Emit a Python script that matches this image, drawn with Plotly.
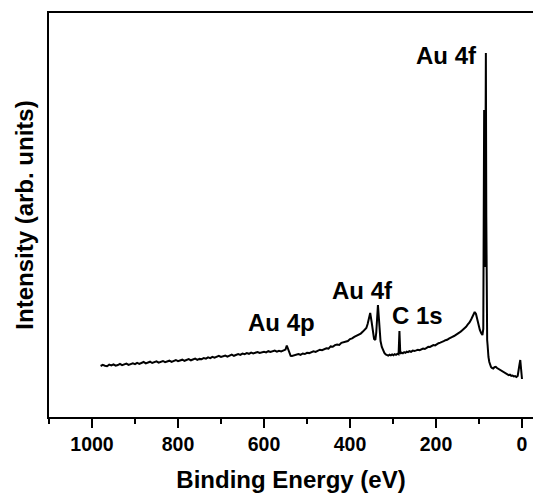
import plotly.graph_objects as go

# Binding energy (eV) and intensity (arb. units)
be = [980, 975, 970, 965, 960, 955, 950, 945, 940, 935, 930, 925, 920, 915, 910, 905,
      900, 895, 890, 885, 880, 875, 870, 865, 860, 855, 850, 845, 840, 835, 830, 825,
      820, 815, 810, 805, 800, 795, 790, 785, 780, 775, 770, 765, 760, 755, 750, 745,
      740, 735, 730, 725, 720, 715, 710, 705, 700, 695, 690, 685, 680, 675, 670, 665,
      660, 655, 650, 645, 640, 635, 630, 625, 620, 615, 610, 605, 600,
      595, 590, 585, 580, 575, 570, 565, 560, 555, 550, 547, 544, 541, 538, 535, 530,
      525, 520, 515, 510, 505, 500, 495, 490, 485, 480, 475, 470, 465, 460, 455, 450,
      445, 440, 435, 430, 425, 420, 415, 410, 405, 400, 395, 390, 385, 380, 375, 370,
      365, 362, 359, 356, 353, 350, 347, 344, 341, 339, 337, 335, 333, 331, 329, 326,
      323, 320, 317, 314, 311, 308, 305, 302, 299, 296, 293, 290, 287, 285, 284, 283,
      280, 277, 274, 271, 268, 265, 262, 258, 254, 250, 246, 242, 238, 234, 230, 226,
      222, 218, 214, 210, 206, 202, 198, 194, 190, 186, 182, 178, 174, 170, 166, 162,
      158, 154, 150, 146, 142, 138, 134, 130, 126, 122, 118, 114, 110, 107, 104, 101,
      98, 95, 92, 90, 89, 88, 87, 86, 85, 84, 83, 82, 81, 80, 79, 78,
      76, 74, 72, 70, 67, 64, 61, 58, 55, 52, 49, 46, 43, 40, 37, 34,
      31, 28, 25, 22, 19, 16, 13, 10, 8, 6, 4, 2, 1, 0]

intensity = [51.0, 52.1, 51.3, 50.8, 52.4, 51.6, 52.7, 51.4, 52.0, 53.2, 51.9, 52.3, 53.4, 52.1, 52.9, 53.6,
             52.8, 54.1, 53.2, 53.9, 55.0, 53.6, 54.2, 55.3, 54.0, 54.7, 55.6, 54.3, 55.2, 56.0, 54.8, 55.5,
             56.3, 55.1, 56.0, 57.0, 55.8, 56.4, 57.3, 56.2, 57.1, 57.9, 56.7, 57.6, 58.4, 57.2, 58.1, 57.8,
             59.0, 58.3, 59.6, 58.9, 60.2, 59.4, 60.0, 61.1, 60.0, 60.8, 61.5, 60.4, 61.6, 62.3, 61.2, 62.0,
             62.9, 62.1, 63.4, 62.8, 63.9, 63.2, 64.4, 63.6, 64.1, 65.0, 64.0, 64.8, 65.3,
             64.6, 65.8, 65.0, 65.6, 66.4, 65.3, 66.2, 65.6, 66.5, 67.4, 71.5, 68.0, 63.5, 61.2, 61.0, 61.6,
             61.8, 62.9, 62.2, 63.5, 63.0, 64.2, 63.9, 64.8, 65.6, 65.0, 66.4, 67.3, 66.8, 68.1, 68.7, 68.4,
             70.6, 70.2, 71.9, 72.4, 72.0, 74.1, 74.6, 75.8, 76.0, 77.9, 78.6, 80.1, 81.0, 82.6, 83.4, 85.4,
             88.0, 89.0, 93.0, 98.0, 104.0, 96.0, 85.0, 78.0, 77.0, 84.0, 98.0, 112.0, 100.0, 85.0, 76.0, 70.0,
             66.5, 64.0, 62.6, 62.2, 61.4, 62.3, 61.6, 62.6, 61.8, 62.9, 62.2, 63.1, 62.6, 86.0, 70.0, 63.2,
             64.4, 63.8, 64.9, 64.2, 65.3, 64.9, 65.8, 65.2, 66.4, 66.0, 66.6, 67.3, 66.8, 67.9, 68.4, 68.0,
             69.6, 70.2, 70.0, 71.4, 71.9, 71.6, 73.1, 73.8, 74.4, 74.9, 75.8, 76.8, 77.2, 78.4, 79.0, 80.2,
             81.0, 82.4, 83.2, 84.3, 85.6, 87.0, 88.4, 90.2, 92.6, 94.6, 97.8, 101.0, 105.0, 103.0, 97.0, 91.0,
             87.0, 84.0, 82.0, 88.0, 160.0, 307.0, 230.0, 150.0, 250.0, 364.0, 200.0, 90.0, 77.0, 72.0, 64.0, 60.0,
             55.0, 52.0, 50.0, 49.0, 48.5, 49.8, 50.2, 49.0, 48.2, 47.3, 46.6, 45.8, 45.1, 44.3, 43.7, 43.0,
             41.8, 42.4, 41.2, 41.5, 40.6, 40.9, 40.0, 41.0, 45.0, 52.0, 57.0, 50.0, 42.0, 38.0]

# Peak labels: text, binding energy, intensity
label_text = ["Au 4f", "Au 4f", "C 1s", "Au 4p"]
label_be = [175, 371, 244, 559]
label_int = [362, 127, 102, 95]

major_ticks = [1000, 800, 600, 400, 200, 0]
minor_ticks = [1100, 900, 700, 500, 300, 100]

FONT = "Liberation Sans, Arial, sans-serif"

fig = go.Figure()
fig.add_trace(go.Scatter(x=be, y=intensity, mode="lines",
                         line=dict(color="black", width=2.0), showlegend=False))

for t, xv, yv in zip(label_text, label_be, label_int):
    fig.add_annotation(x=xv, y=yv, text=t, showarrow=False, xanchor="center", yanchor="middle",
                       font=dict(family=FONT, size=24, color="black", weight="bold"))

fig.update_layout(
    width=533, height=493,
    margin=dict(l=49, r=0, t=13, b=76),
    paper_bgcolor="white", plot_bgcolor="white",
    font=dict(family=FONT, color="black"),
)
fig.update_xaxes(
    range=[1100, -25.6], showline=True, linecolor="black", linewidth=2, mirror=True,
    showgrid=False, zeroline=False,
    tickmode="array", tickvals=major_ticks, ticktext=[str(v) for v in major_ticks],
    ticks="outside", ticklen=9, tickwidth=1.5, tickcolor="black",
    minor=dict(tickmode="array", tickvals=minor_ticks, ticks="outside", ticklen=5, tickwidth=1.5,
               tickcolor="black", showgrid=False),
    tickfont=dict(family=FONT, size=19.5, color="black", weight="bold"),
    title=dict(text="Binding Energy (eV)", standoff=19,
               font=dict(family=FONT, size=24, color="black", weight="bold")),
)
fig.update_yaxes(
    range=[0, 404], showline=True, linecolor="black", linewidth=2, mirror=False,
    showgrid=False, zeroline=False, showticklabels=False, ticks="",
    title=dict(text="Intensity (arb. units)", standoff=7,
               font=dict(family=FONT, size=24, color="black", weight="bold")),
)

fig.write_html("out.html")
